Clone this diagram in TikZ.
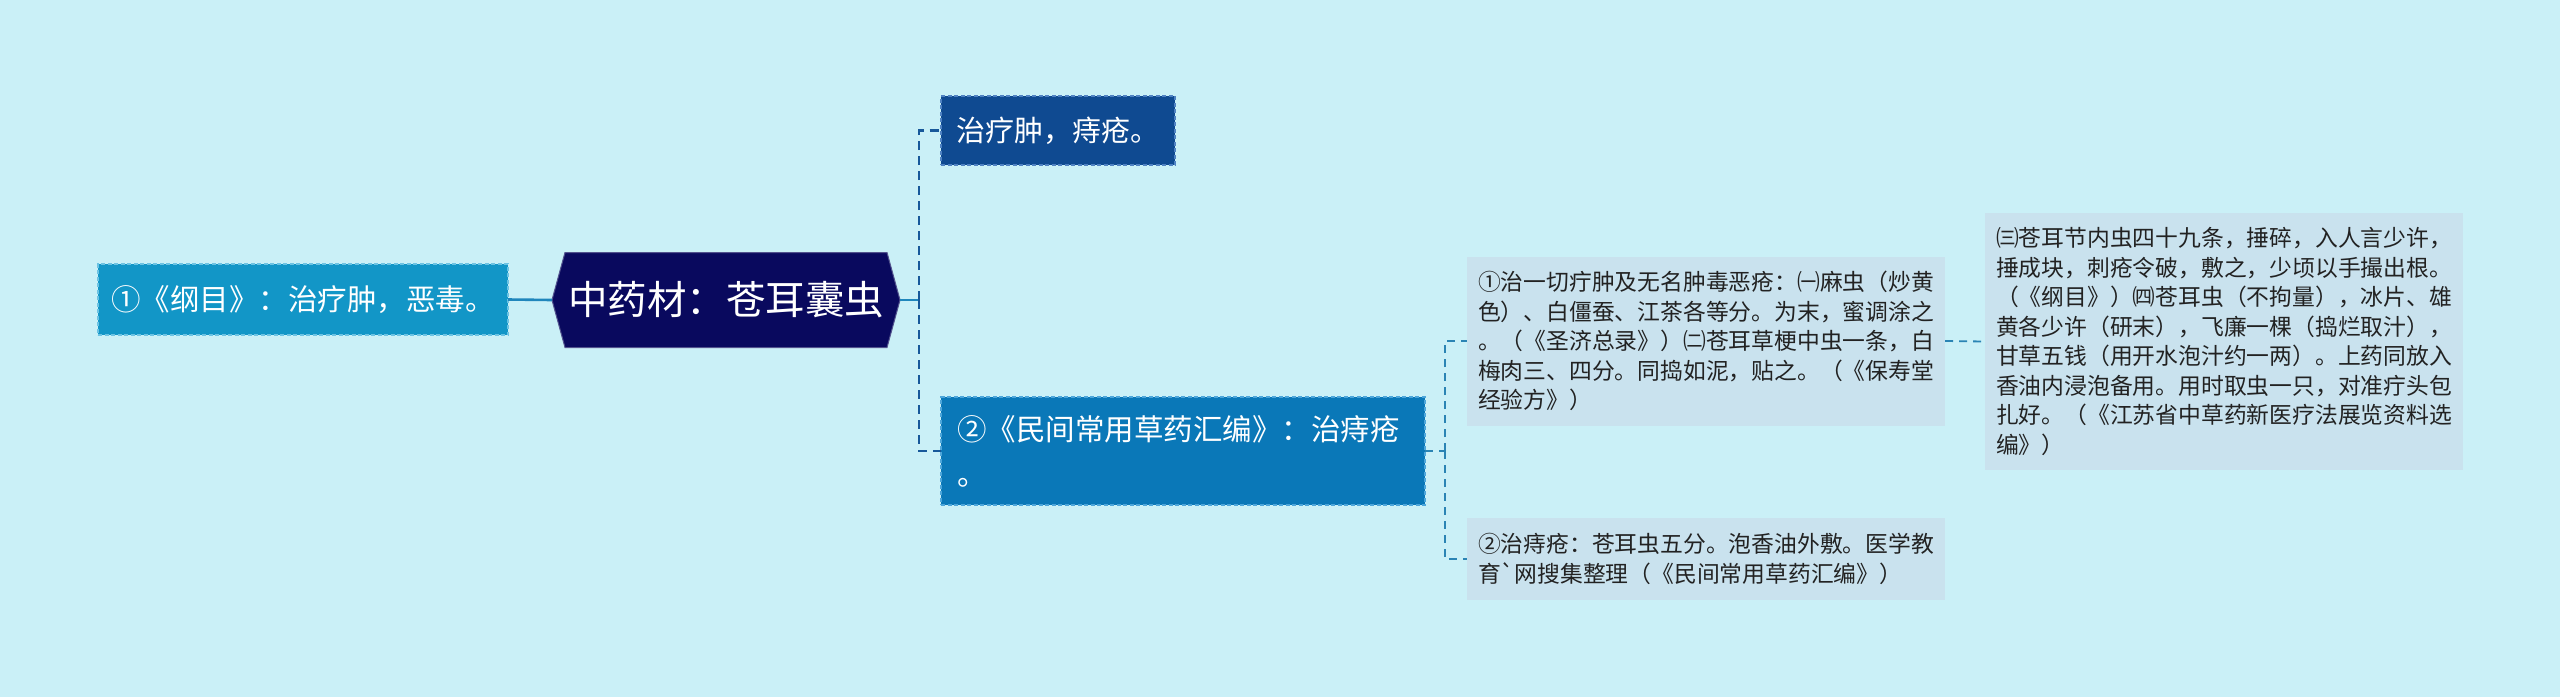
\documentclass[tikz,border=0pt]{standalone}
\usepackage{fontspec}
\newfontfamily\cjk{Noto Sans CJK SC}
\usetikzlibrary{backgrounds}
\definecolor{bg}{HTML}{CAF0F7}
\definecolor{rootfill}{HTML}{09095E}
\definecolor{leftfill}{HTML}{1296C7}
\definecolor{leftborder}{HTML}{6CC3E3}
\definecolor{topfill}{HTML}{0F4A91}
\definecolor{topborder}{HTML}{4F82C2}
\definecolor{midfill}{HTML}{0A78B8}
\definecolor{midborder}{HTML}{4DA6DA}
\definecolor{leaffill}{HTML}{C9E2EE}
\definecolor{leaftext}{HTML}{222222}
\definecolor{linedark}{HTML}{17589A}
\definecolor{linemid}{HTML}{1F86BC}
\definecolor{lineleaf}{HTML}{2A84B4}
\tikzset{
  every node/.style={inner sep=0pt, outer sep=0pt},
  rootbox/.style={rectangle, text=white,
     minimum width=348pt, minimum height=95pt, font={\cjk\fontsize{39.5}{46}\selectfont}},
  leftbox/.style={rectangle, fill=leftfill, draw=leftborder, dash pattern=on 4pt off 2.5pt, line width=1.5pt, text=white,
     minimum width=410pt, minimum height=71pt, font={\cjk\fontsize{29.5}{34}\selectfont}},
  topbox/.style={rectangle, fill=topfill, draw=topborder, dash pattern=on 4pt off 2.5pt, line width=1.5pt, text=white,
     minimum width=234pt, minimum height=69pt, font={\cjk\fontsize{29}{34}\selectfont}},
  midbox/.style={rectangle, fill=midfill, draw=midborder, dash pattern=on 4pt off 2.5pt, line width=1.5pt, text=white,
     minimum width=484pt, minimum height=108pt, align=left, text width=452pt,
     font={\cjk\fontsize{29.5}{45}\selectfont}},
  leafbox/.style={rectangle, fill=leaffill, text=leaftext, minimum width=478pt,
     align=left, text width=456pt, font={\cjk\fontsize{22.8}{29.5}\selectfont}},
  trunk/.style={draw=linedark, line width=2.6pt, dash pattern=on 9pt off 6pt},
  branchline/.style={draw=lineleaf, line width=1.8pt, dash pattern=on 8pt off 6pt},
}
\begin{document}
\begin{tikzpicture}[x=1pt,y=-1pt]
\useasboundingbox (0,0) rectangle (2560,697);

\node[rootbox] (root) at (726,300) {中药材：苍耳囊虫};
\begin{scope}[on background layer]
\fill[bg] (0,0) rectangle (2560,697);
\fill[rootfill, draw=rootfill!70!white, line width=1pt]
  ([xshift=13pt]root.north west) -- ([xshift=-13pt]root.north east) -- (root.east)
  -- ([xshift=-13pt]root.south east) -- ([xshift=13pt]root.south west) -- (root.west) -- cycle;
\end{scope}
\node[leftbox] (left) at (303,299.5) {①《纲目》：治疗肿，恶毒。};
\node[topbox] (top) at (1058,130.5) {治疗肿，痔疮。};
\node[midbox] (mid) at (1183,451) {②《民间常用草药汇编》：治痔疮\\。};
\node[leafbox, minimum height=169pt] (leafa) at (1706,341) {①治一切疔肿及无名肿毒恶疮：㈠麻虫（炒黄\\色）、白僵蚕、江茶各等分。为末，蜜调涂之\\。（《圣济总录》）㈡苍耳草梗中虫一条，白\\梅肉三、四分。同捣如泥，贴之。（《保寿堂\\经验方》）};
\node[leafbox, minimum height=82pt] (leafb) at (1706,559) {②治痔疮：苍耳虫五分。泡香油外敷。医学教\\育`网搜集整理（《民间常用草药汇编》）};
\node[leafbox, minimum height=257pt] (leafc) at (2224,341.5) {㈢苍耳节内虫四十九条，捶碎，入人言少许，\\捶成块，刺疮令破，敷之，少顷以手撮出根。\\（《纲目》）㈣苍耳虫（不拘量），冰片、雄\\黄各少许（研末），飞廉一棵（捣烂取汁），\\甘草五钱（用开水泡汁约一两）。上药同放入\\香油内浸泡备用。用时取虫一只，对准疔头包\\扎好。（《江苏省中草药新医疗法展览资料选\\编》）};

\coordinate (tk) at (919,300);
\coordinate (bk) at (1445,451);
\draw[draw=linemid, line width=2.6pt] (root.west) -- (left.east);
\draw[draw=linemid, line width=2.6pt] (root.east) -- (tk);
\draw[trunk] (tk) |- (top.west);
\draw[trunk] (tk) |- (mid.west);
\draw[branchline] (mid.east) -- (bk);
\draw[branchline] (bk) |- (leafa.west);
\draw[branchline] (bk) |- (leafb.west);
\draw[branchline] (leafa.east) -- (leafc.west);
\end{tikzpicture}
\end{document}
